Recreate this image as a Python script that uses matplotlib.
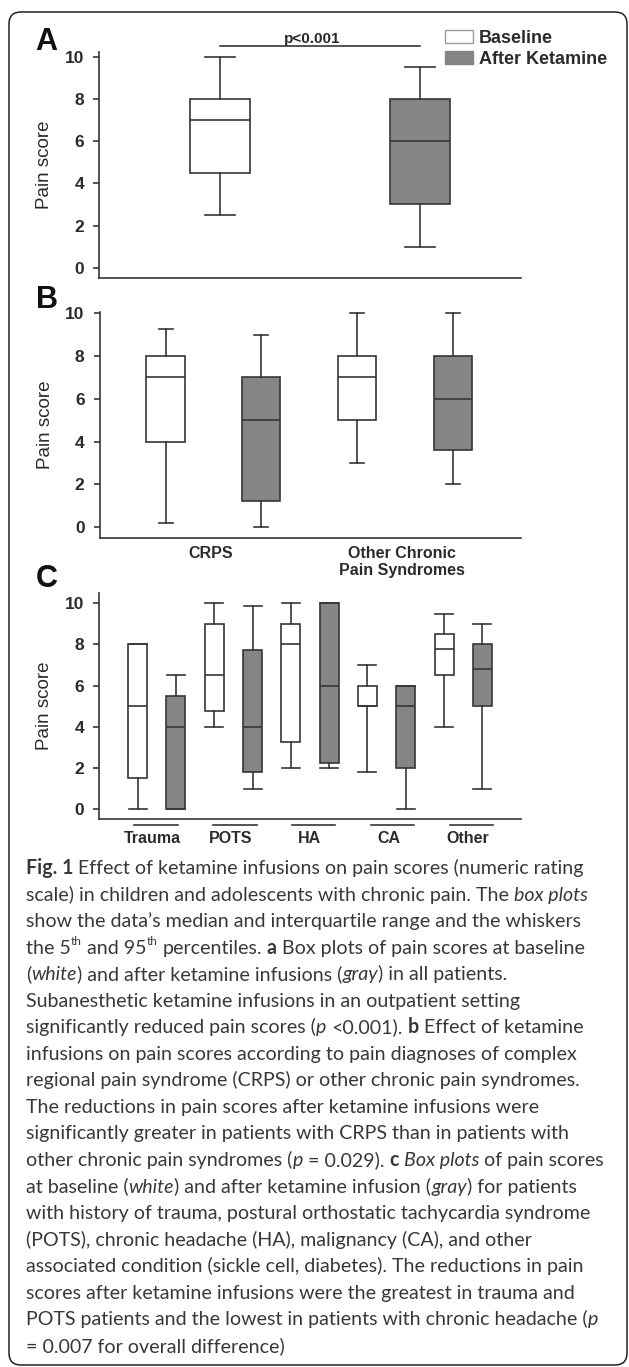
import matplotlib
matplotlib.use("Agg")
import matplotlib.pyplot as plt
from matplotlib.patches import Patch, FancyBboxPatch
from matplotlib.lines import Line2D

plt.rcParams['font.family'] = ['Liberation Sans', 'DejaVu Sans']

# ---------------- data ----------------
A_series = ['Baseline', 'After Ketamine']
A_whislo = [2.5, 1.0]
A_q1 = [4.5, 3.0]
A_med = [7.0, 6.0]
A_q3 = [8.0, 8.0]
A_whishi = [10.0, 9.5]
A_pvalue = 'p<0.001'

B_groups = ['CRPS', 'Other Chronic\nPain Syndromes']
B_base_whislo = [0.2, 3.0]
B_base_q1 = [4.0, 5.0]
B_base_med = [7.0, 7.0]
B_base_q3 = [8.0, 8.0]
B_base_whishi = [9.25, 10.0]
B_aft_whislo = [0.0, 2.0]
B_aft_q1 = [1.25, 3.6]
B_aft_med = [5.0, 6.0]
B_aft_q3 = [7.0, 8.0]
B_aft_whishi = [9.0, 10.0]

C_groups = ['Trauma', 'POTS', 'HA', 'CA', 'Other']
C_base_whislo = [0.0, 4.0, 2.0, 1.8, 4.0]
C_base_q1 = [1.5, 4.75, 3.25, 5.0, 6.5]
C_base_med = [5.0, 6.5, 8.0, 5.0, 7.8]
C_base_q3 = [8.0, 9.0, 9.0, 6.0, 8.5]
C_base_whishi = [8.0, 10.0, 10.0, 7.0, 9.5]
C_aft_whislo = [0.0, 1.0, 2.0, 0.0, 1.0]
C_aft_q1 = [0.0, 1.8, 2.25, 2.0, 5.0]
C_aft_med = [4.0, 4.0, 6.0, 5.0, 6.8]
C_aft_q3 = [5.5, 7.75, 10.0, 6.0, 8.0]
C_aft_whishi = [6.5, 9.85, 10.0, 6.0, 9.0]

y_ticks = [0, 2, 4, 6, 8, 10]
y_label = 'Pain score'

# ---------------- style ----------------
W, H = 629, 1367
EC = '#363636'
GRAY = '#858585'
TXT = '#2b2b2b'
LW = 1.2
TICK_FS = 12.5

fig = plt.figure(figsize=(W / 100, H / 100), dpi=100)


def px_axes(left, top, right, bottom):
    return fig.add_axes([left / W, 1 - bottom / H, (right - left) / W, (bottom - top) / H])


def stats(lo, q1, med, q3, hi):
    return [dict(whislo=a, q1=b, med=c, q3=d, whishi=e, fliers=[])
            for a, b, c, d, e in zip(lo, q1, med, q3, hi)]


def draw_pairs(ax, base, aft, width, capw):
    st, cols = [], []
    for b, a in zip(base, aft):
        st += [b, a]
        cols += ['white', GRAY]
    pos = list(range(len(st)))
    lp = dict(color=EC, linewidth=LW)
    res = ax.bxp(st, positions=pos, widths=width, capwidths=capw, patch_artist=True,
                 showfliers=False, manage_ticks=False,
                 boxprops=dict(edgecolor=EC, linewidth=LW),
                 medianprops=lp, whiskerprops=lp, capprops=lp)
    for patch, c in zip(res['boxes'], cols):
        patch.set_facecolor(c)


def style_axes(ax, ylim, xlim):
    ax.set_ylim(*ylim)
    ax.set_xlim(*xlim)
    for s in ('top', 'right'):
        ax.spines[s].set_visible(False)
    for s in ('left', 'bottom'):
        ax.spines[s].set_color(EC)
        ax.spines[s].set_linewidth(LW)
    ax.set_yticks(y_ticks, labels=[str(v) for v in y_ticks], fontweight='bold',
                  fontsize=TICK_FS, color=TXT)
    ax.tick_params(axis='y', direction='out', length=4.3, width=LW, color=EC, pad=6.5)
    ax.tick_params(axis='x', length=0)
    ax.set_xticks([])
    ax.set_ylabel(y_label, fontsize=13.5, color=TXT)
    ax.yaxis.label.set_va('center')
    ax.yaxis.set_label_coords(-0.129, 0.5)
    ax.patch.set_alpha(0)


# ---------------- panel A ----------------
axA = px_axes(99.3, 51.7, 520.7, 277.7)
A_stats = stats(A_whislo, A_q1, A_med, A_q3, A_whishi)
draw_pairs(axA, [A_stats[0]], [A_stats[1]], 0.30, 0.15)
style_axes(axA, (-0.47, 10.24), (-0.6, 1.5))
axA.plot([0, 1], [10.49, 10.49], color=EC, lw=LW, clip_on=False)
axA.text(0.46, 10.66, A_pvalue, ha='center', va='baseline', fontsize=11, fontweight='bold',
         color=TXT, clip_on=False)
handles = [Patch(facecolor='white', edgecolor='#999999', linewidth=1.0, label=A_series[0]),
           Patch(facecolor=GRAY, edgecolor=GRAY, linewidth=1.0, label=A_series[1])]
leg = axA.legend(handles=handles, loc='upper left', bbox_to_anchor=(445 / W, 1 - 30 / H),
                 bbox_transform=fig.transFigure, frameon=False, borderpad=0, borderaxespad=0,
                 handlelength=1.55, handleheight=0.68, handletextpad=0.33, labelspacing=0.22,
                 prop=dict(weight='bold', size=13))
for t in leg.get_texts():
    t.set_color(TXT)

# ---------------- panel B ----------------
axB = px_axes(99.6, 311.7, 520.7, 538)
draw_pairs(axB,
           stats(B_base_whislo, B_base_q1, B_base_med, B_base_q3, B_base_whishi),
           stats(B_aft_whislo, B_aft_q1, B_aft_med, B_aft_q3, B_aft_whishi),
           0.40, 0.146)
style_axes(axB, (-0.5, 10.07), (-0.69, 3.71))
axB.set_xticks([2 * i + 0.47 for i in range(len(B_groups))], labels=B_groups,
               fontweight='bold', fontsize=11.5, color=TXT, linespacing=1.15)
axB.tick_params(axis='x', length=0, pad=6)

# ---------------- panel C ----------------
axC = px_axes(99.3, 592.7, 520.7, 819.3)
draw_pairs(axC,
           stats(C_base_whislo, C_base_q1, C_base_med, C_base_q3, C_base_whishi),
           stats(C_aft_whislo, C_aft_q1, C_aft_med, C_aft_q3, C_aft_whishi),
           0.50, 0.47)
style_axes(axC, (-0.49, 10.51), (-1.0, 10.0))
c_centers = [0.475 + 2.06 * i for i in range(len(C_groups))]
axC.set_xticks([c - 0.1 for c in c_centers], labels=C_groups, fontweight='bold',
               fontsize=11.5, color=TXT)
axC.tick_params(axis='x', length=0, pad=8.5)
for cx in c_centers:
    axC.add_line(Line2D([cx - 0.57, cx + 0.57], [-0.025, -0.025], color=EC, lw=LW,
                        transform=axC.get_xaxis_transform(), clip_on=False))

# ---------------- panel letters ----------------
for letter, (lx, ly) in zip('ABC', [(35, 50), (36, 308), (36, 587)]):
    fig.text(lx / W, 1 - ly / H, letter, fontsize=22, fontweight='bold', color='#111111',
             va='baseline', ha='left')

# ---------------- border ----------------
border = FancyBboxPatch((9, 2), 618, 1353, boxstyle='round,pad=0,rounding_size=12',
                        transform=None, facecolor='none', edgecolor='#222222', linewidth=1.1)
fig.add_artist(border)

# ---------------- caption ----------------
caption = [
    [("Fig. 1", 'b'), (" Effect of ketamine infusions on pain scores (numeric rating", 'n')],
    [("scale) in children and adolescents with chronic pain. The ", 'n'), ("box plots", 'i')],
    [("show the data\u2019s median and interquartile range and the whiskers", 'n')],
    [("the 5", 'n'), ("th", 's'), (" and 95", 'n'), ("th", 's'), (" percentiles. ", 'n'), ("a", 'b'),
     (" Box plots of pain scores at baseline", 'n')],
    [("(", 'n'), ("white", 'i'), (") and after ketamine infusions (", 'n'), ("gray", 'i'),
     (") in all patients.", 'n')],
    [("Subanesthetic ketamine infusions in an outpatient setting", 'n')],
    [("significantly reduced pain scores (", 'n'), ("p", 'i'), (" <0.001). ", 'n'), ("b", 'b'),
     (" Effect of ketamine", 'n')],
    [("infusions on pain scores according to pain diagnoses of complex", 'n')],
    [("regional pain syndrome (CRPS) or other chronic pain syndromes.", 'n')],
    [("The reductions in pain scores after ketamine infusions were", 'n')],
    [("significantly greater in patients with CRPS than in patients with", 'n')],
    [("other chronic pain syndromes (", 'n'), ("p", 'i'), (" = 0.029). ", 'n'), ("c", 'b'), (" ", 'n'),
     ("Box plots", 'i'), (" of pain scores", 'n')],
    [("at baseline (", 'n'), ("white", 'i'), (") and after ketamine infusion (", 'n'), ("gray", 'i'),
     (") for patients", 'n')],
    [("with history of trauma, postural orthostatic tachycardia syndrome", 'n')],
    [("(POTS), chronic headache (HA), malignancy (CA), and other", 'n')],
    [("associated condition (sickle cell, diabetes). The reductions in pain", 'n')],
    [("scores after ketamine infusions were the greatest in trauma and", 'n')],
    [("POTS patients and the lowest in patients with chronic headache (", 'n'), ("p", 'i')],
    [("= 0.007 for overall difference)", 'n')],
]

CAP_FONT = ['Lato', 'DejaVu Sans']
CAP_COLOR = '#383838'
renderer = fig.canvas.get_renderer()


def text_width(s, **props):
    t = fig.text(0, 0, s, **props)
    w = t.get_window_extent(renderer).width
    t.remove()
    return w


# size caption so that line 2 spans ~567 px
w10 = text_width(''.join(r[0] for r in caption[1]), family=CAP_FONT, fontsize=10)
cs = 10 * 567 / w10


def props_for(style):
    p = dict(family=CAP_FONT, fontsize=cs, color=CAP_COLOR)
    if style == 'b':
        p['fontweight'] = 'bold'
    elif style == 'i':
        p['fontstyle'] = 'italic'
    elif style == 's':
        p['fontsize'] = cs * 0.6
    return p


space_w = {}
for st in 'nbis':
    pr = props_for(st)
    space_w[st] = text_width('n n', **pr) - text_width('nn', **pr)

x0 = 26
base0 = 874
pitch = 26.55
for li, runs in enumerate(caption):
    x = x0
    yb = base0 + li * pitch
    for txt, st in runs:
        pr = props_for(st)
        lead = len(txt) - len(txt.lstrip(' '))
        trail = len(txt) - len(txt.rstrip(' '))
        core = txt.strip(' ')
        x += lead * space_w[st]
        if core:
            raise_px = cs * 1.389 * 0.42 if st == 's' else 0
            fig.text(x / W, 1 - (yb - raise_px) / H, core, ha='left', va='baseline', **pr)
            x += text_width(core, **pr)
        x += trail * space_w[st] if core else 0

fig.savefig('out.png', dpi=100)
